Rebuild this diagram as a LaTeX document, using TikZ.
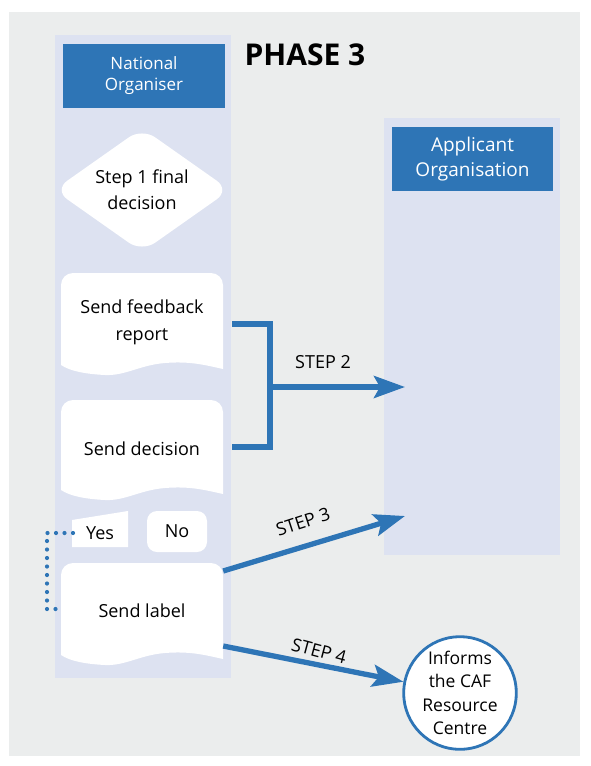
\documentclass[tikz,border=0pt]{standalone}
\usepackage{fontspec}
\setmainfont{Open Sans}
\usetikzlibrary{arrows.meta,shapes.geometric,calc}
\definecolor{cafblue}{HTML}{2E75B6}
\definecolor{lav}{HTML}{DDE2F1}
\definecolor{bggray}{HTML}{EBEDED}
\newcommand\mydocshape[2]{%
  \fill[white, rounded corners=12pt] (61,#2-10) -- (61,#1) -- (223,#1) [sharp corners] -- (223,#2-6)
    .. controls (205,#2-10) and (190,#2-14) .. (165,#2-12)
    .. controls (140,#2-10) and (125,#2+1) .. (105,#2)
    .. controls (85,#2-1) and (70,#2-4) .. (61,#2-10) -- cycle;}
\begin{document}
\begin{tikzpicture}[x=1pt,y=-1pt,
  hdr/.style={fill=cafblue, text=white, align=center, inner sep=0pt, font=\fontsize{17}{22}\selectfont},
  txt/.style={align=center, inner sep=0pt, font=\fontsize{18}{27}\selectfont},
  steplbl/.style={inner sep=0pt, font=\fontsize{18}{20}\selectfont},
  flow/.style={cafblue, line width=5.3pt, -{Stealth[length=31pt, width=22pt, inset=6pt]}},
  bracket/.style={cafblue, line width=5.3pt},
  dots/.style={cafblue, line width=4.2pt, line cap=round, dash pattern=on 0pt off 8.5pt}]
\useasboundingbox (0,0) rectangle (590,766);
\fill[white] (0,0) rectangle (590,766);
\fill[bggray] (9,12) rectangle (580,756);
% swimlanes
\fill[lav] (55,35) rectangle (231,678);
\fill[lav] (384,118) rectangle (560,555);
% headers
\node[hdr, minimum width=162pt, minimum height=64pt] (no) at (144,76) {National\\[-1pt]Organiser};
\node[hdr, minimum width=161pt, minimum height=64pt, font=\fontsize{19}{25}\selectfont] (ao) at (472.5,159) {Applicant\\Organisation};
\node[font=\bfseries\fontsize{30}{30}\selectfont, inner sep=0pt] (ph) at (305,55) {PHASE 3};
% decision diamond
\node[diamond, fill=white, aspect=1.42, minimum width=176pt, minimum height=124pt, inner sep=0pt, rounded corners=16pt, txt, font=\fontsize{18}{26}\selectfont] (dec) at (142,190) {Step 1 final\\decision};
% documents
\mydocshape{273}{375}
\node[txt, minimum width=162pt, minimum height=100pt] (fb) at (142,322) {Send feedback\\report};
\mydocshape{400}{500}
\node[txt, minimum width=162pt, minimum height=100pt] (sd) at (142,449) {Send decision};
\mydocshape{563}{665}
\node[txt, minimum width=162pt, minimum height=100pt] (sl) at (142,611) {Send label};
% yes / no
\fill[white] (72,520) -- (128,511) -- (128,547) -- (72,547) -- cycle;
\node[txt, inner sep=0pt] (yes) at (100,533) {Yes};
\node[txt, fill=white, rounded corners=10pt, minimum width=60pt, minimum height=41pt] (nob) at (177,531.5) {No};
% circle
\node[circle, draw=cafblue, line width=2.8pt, fill=white, minimum size=112pt, inner sep=0pt, align=center, font=\fontsize{17.5}{23.5}\selectfont] (caf) at (460,693) {Informs\\the CAF\\Resource\\Centre};
% connectors
\coordinate (yesl) at (73,533);
\coordinate (sll) at (63,609);
\draw[dots] (yesl) -- (47,533) -- (47,609) -- (sll);
\coordinate (b1) at ($(fb.east)+(9,2)$);
\coordinate (b2) at ($(sd.east)+(9,-2)$);
\coordinate (bx) at (270,385);
\coordinate (t2) at (405,387);
\draw[bracket] (b1) -- (b1 -| bx) -- (b2 -| bx) -- (b2);
\draw[flow] (bx |- t2) -- (t2);
\node[steplbl] (s2) at (323,362) {STEP 2};
\coordinate (t3) at (405,516);
\draw[flow] ($(sl.east)+(0,-40)$) -- (t3);
\node[steplbl, rotate=18] (s3) at (303,522) {STEP 3};
\draw[flow] ($(sl.east)+(0,35)$) -- (caf);
\node[steplbl, rotate=-15] (s4) at (319,651) {STEP 4};
\end{tikzpicture}
\end{document}
